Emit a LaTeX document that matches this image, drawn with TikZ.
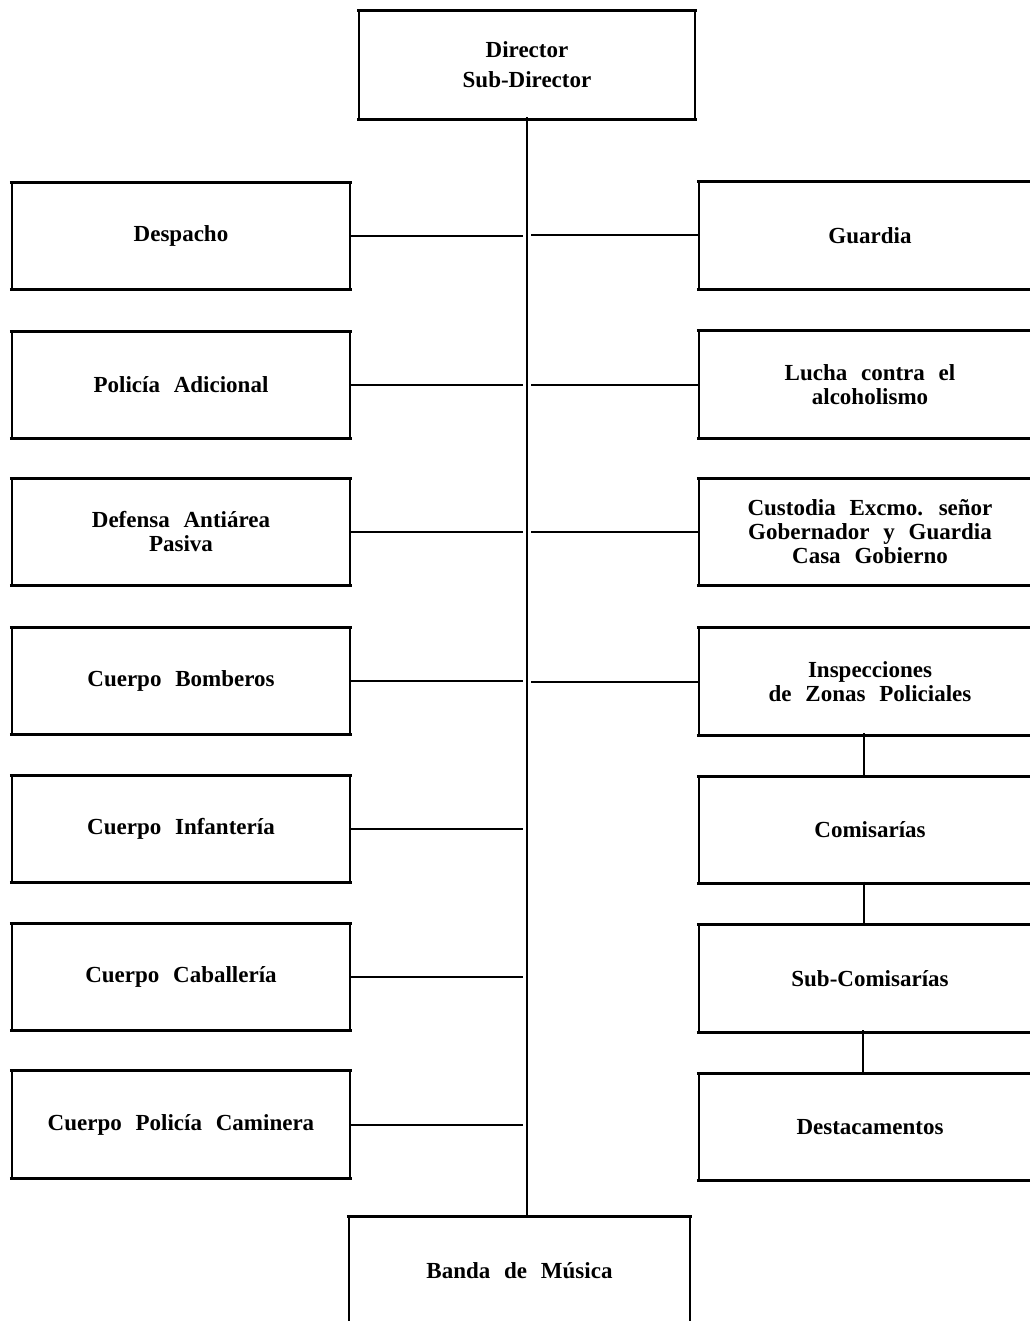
\documentclass[tikz,border=0pt]{standalone}
\usepackage{fontspec}
\setmainfont{Liberation Serif}[WordSpace={2.4,1,1}]
\begin{document}
\begin{tikzpicture}[x=1pt,y=-1pt,
  orgbox/.style={draw=none, minimum height=107pt, align=center, inner sep=0pt,
    font=\fontsize{23}{24}\selectfont\bfseries},
  lbox/.style={orgbox, minimum width=338pt},
  rbox/.style={orgbox, minimum width=342pt},
  hedge/.style={line width=3pt},
  vedge/.style={line width=2pt},
  conn/.style={line width=2pt},
  vconn/.style={line width=2.6pt}]
\useasboundingbox (0,0) rectangle (1029,1321);
\fill[white] (0,0) rectangle (1029,1321);
% top and bottom
\node[orgbox, minimum width=335pt, minimum height=108pt,
  font=\fontsize{23}{30}\selectfont\bfseries] (dir) at (527,65) {Director\\Sub-Director};
\node[orgbox, minimum width=341pt, minimum height=108pt] (band) at (519.5,1271) {Banda de Música};
% left column
\node[lbox] (desp) at (181,236) {Despacho};
\node[lbox] (poli) at (181,385) {Policía Adicional};
\node[lbox] (defe) at (181,532) {Defensa Antiárea\\Pasiva};
\node[lbox] (bomb) at (181,681) {Cuerpo Bomberos};
\node[lbox] (infa) at (181,829) {Cuerpo Infantería};
\node[lbox] (caba) at (181,977) {Cuerpo Caballería};
\node[lbox] (cami) at (181,1124.5) {Cuerpo Policía Caminera};
% right column
\node[rbox] (guar) at (870,235.5) {Guardia};
\node[rbox] (luch) at (870,384.5) {Lucha contra el\\alcoholismo};
\node[rbox] (cust) at (870,532) {Custodia Excmo. señor\\Gobernador y Guardia\\Casa Gobierno};
\node[rbox] (insp) at (870,681.5) {Inspecciones\\de Zonas Policiales};
\node[rbox] (comi) at (870,830) {Comisarías};
\node[rbox] (subc) at (870,978.5) {Sub-Comisarías};
\node[rbox] (dest) at (870,1127) {Destacamentos};
% box outlines
\foreach \n in {dir,band,desp,poli,defe,bomb,infa,caba,cami,guar,luch,cust,insp,comi,subc,dest}{
  \draw[hedge] ([xshift=-2pt]\n.north west) -- ([xshift=2pt]\n.north east);
  \draw[hedge] ([xshift=-2pt]\n.south west) -- ([xshift=2pt]\n.south east);
  \draw[vedge] (\n.north west) -- (\n.south west);
  \draw[vedge] (\n.north east) -- (\n.south east);
}
% trunk
\coordinate (trunktop) at ([yshift=2pt]dir.south);
\draw[conn] (trunktop) -- (trunktop |- band.north);
% branches
\foreach \n in {desp,poli,defe,bomb,infa,caba,cami}{
  \draw[conn] (\n.east) -- ([xshift=-4pt]\n.east -| trunktop);
}
\foreach \n in {guar,luch,cust,insp}{
  \draw[conn] (\n.west) -- ([xshift=4pt]\n.west -| trunktop);
}
% right chain
\draw[vconn] ([xshift=-6pt,yshift=2pt]insp.south) -- ([xshift=-6pt]insp.south |- comi.north);
\draw[vconn] ([xshift=-6pt,yshift=2pt]comi.south) -- ([xshift=-6pt]comi.south |- subc.north);
\draw[vconn] ([xshift=-7pt,yshift=2pt]subc.south) -- ([xshift=-7pt]subc.south |- dest.north);
\end{tikzpicture}
\end{document}
